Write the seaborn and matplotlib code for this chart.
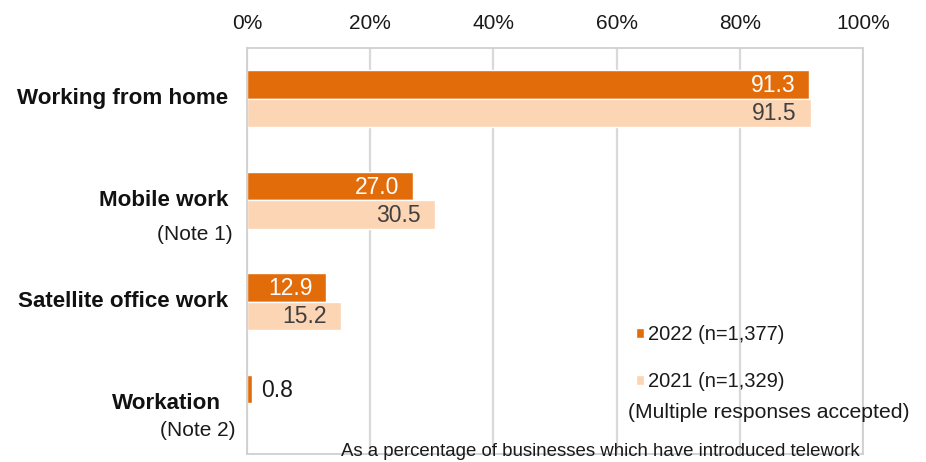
import numpy as np
import pandas as pd
import matplotlib
matplotlib.use("Agg")
import matplotlib.pyplot as plt
import seaborn as sns

# Telework styles introduced by businesses, share in %
categories = ["Working from home", "Mobile work", "Satellite office work", "Workation"]
notes = ["", "(Note 1)", "", "(Note 2)"]
series_names = ["2022 (n=1,377)", "2021 (n=1,329)"]
values_2022 = [91.3, 27.0, 12.9, 0.8]
values_2021 = [91.5, 30.5, 15.2, np.nan]
tick_values = [0, 20, 40, 60, 80, 100]
tick_labels = ["0%", "20%", "40%", "60%", "80%", "100%"]

ORANGE = "#E36C0A"
PEACH = "#FCD5B5"
GRID = "#D9D9D9"
TEXT = "#1A1A1A"

df = pd.DataFrame({
    "category": categories * 2,
    "value": values_2022 + values_2021,
    "series": [series_names[0]] * 4 + [series_names[1]] * 4,
})

sns.set_style("white")
plt.rcParams["font.family"] = ["Liberation Sans", "DejaVu Sans"]

W, H = 926, 462
fig = plt.figure(figsize=(W / 100, H / 100), dpi=100)
x0, x1, y0, y1 = 247, 863, 48, 454
ax = fig.add_axes([x0 / W, 1 - y1 / H, (x1 - x0) / W, (y1 - y0) / H])

sns.barplot(data=df, y="category", x="value", hue="series", order=categories,
            hue_order=series_names, palette=[ORANGE, PEACH], saturation=1,
            orient="h", width=0.56, errorbar=None, ax=ax)

ax.set_xlim(0, 100)
ax.set_ylim(3.5, -0.5)
ax.set_xticks(tick_values)
ax.set_xticklabels(tick_labels, fontsize=15, color=TEXT)
ax.xaxis.tick_top()
ax.tick_params(axis="x", length=0, pad=10.5)
ax.set_xlabel("")
ax.set_ylabel("")
ax.set_yticks([])
ax.grid(axis="x", color=GRID, linewidth=1.6)
ax.set_axisbelow(True)
for s in ax.spines.values():
    s.set_visible(True)
    s.set_color("#D0D0D0")
    s.set_linewidth(1.3)

# Value labels
for ci, container in enumerate(ax.containers):
    for bar in container:
        w = bar.get_width()
        if not np.isfinite(w):
            continue
        yc = bar.get_y() + bar.get_height() / 2
        if w > 5:
            ax.annotate(f"{w:.1f}", (w, yc), xytext=(-14, -1), textcoords="offset pixels",
                        ha="right", va="center", fontsize=16.5,
                        color="white" if ci == 0 else "#404040")
        else:
            ax.annotate(f"{w:.1f}", (w, yc), xytext=(9, -1), textcoords="offset pixels",
                        ha="left", va="center", fontsize=16.5, color=TEXT)

# Category labels with notes
ytr = ax.get_yaxis_transform()
def ax_x(px):
    return (px - x0) / (x1 - x0)

label_right = [228, 228, 228, 221]
note_right = [None, 233, None, 235]
note_dy = [0, 0.335, 0, 0.27]
for i, (cat, note) in enumerate(zip(categories, notes)):
    ax.text(ax_x(label_right[i]), i, cat, transform=ytr, ha="right", va="center",
            fontsize=16.1, fontweight="bold", color="#111111")
    if note:
        ax.text(ax_x(note_right[i]), i + note_dy[i], note, transform=ytr, ha="right",
                va="center", fontsize=15, color=TEXT)

# Legend
ax.legend(loc="upper left", bbox_to_anchor=(636 / W, 1 - 325 / H),
          bbox_transform=fig.transFigure, frameon=False, fontsize=14.5,
          handlelength=0.4, handleheight=0.4, handletextpad=0.2,
          labelspacing=1.4, borderpad=0, borderaxespad=0, labelcolor=TEXT)

fig.text(910 / W, 1 - 412 / H, "(Multiple responses accepted)", ha="right",
         va="center", fontsize=15.2, color=TEXT)
fig.text(860 / W, 1 - 456 / H,
         "As a percentage of businesses which have introduced telework",
         ha="right", va="baseline", fontsize=13.4, color=TEXT)

fig.savefig("out.png", dpi=100)
